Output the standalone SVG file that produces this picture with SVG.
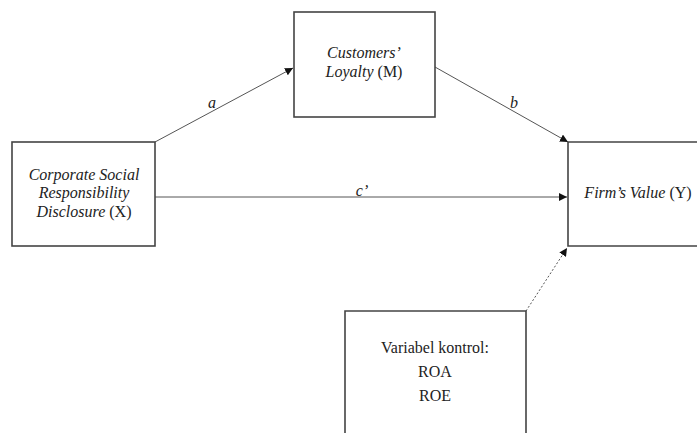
<svg xmlns="http://www.w3.org/2000/svg" width="697" height="433" viewBox="0 0 697 433">
<defs>
<style>
.box{fill:#fff;stroke:#444;stroke-width:1.6}
.edge{fill:none;stroke:#555;stroke-width:1}
.t{font-family:"Liberation Serif","Times New Roman","DejaVu Serif",serif;font-size:16px;fill:#222;text-anchor:middle}
.i{font-style:italic}
</style>
<marker id="ah" viewBox="0 0 10 10" refX="10" refY="5" markerWidth="8" markerHeight="8" markerUnits="userSpaceOnUse" orient="auto">
<path d="M0,0 L10,5 L0,10 z" fill="#111"/>
</marker>
</defs>
<rect width="697" height="433" fill="#fff"/>
<g id="connectors">
<line class="edge" x1="155" y1="142" x2="293" y2="68" marker-end="url(#ah)"/>
<line class="edge" x1="435" y1="67" x2="568" y2="142" marker-end="url(#ah)"/>
<line class="edge" x1="155" y1="197" x2="567" y2="197" marker-end="url(#ah)"/>
<line class="edge" x1="526" y1="311" x2="567" y2="248" stroke-dasharray="2,2" marker-end="url(#ah)"/>
<text class="t i" x="212" y="108">a</text>
<text class="t i" x="514" y="108">b</text>
<text class="t i" x="362" y="196">c’</text>
</g>
<g id="nodeX">
<rect class="box" x="12" y="142" width="143" height="104"/>
<text class="t i" x="84" y="180">Corporate Social</text>
<text class="t i" x="84" y="198">Responsibility</text>
<text class="t i" x="84" y="217"><tspan>Disclosure</tspan><tspan font-style="normal"> (X)</tspan></text>
</g>
<g id="nodeM">
<rect class="box" x="294" y="12" width="141" height="105"/>
<text class="t i" x="364" y="58">Customers’</text>
<text class="t i" x="364" y="77"><tspan>Loyalty</tspan><tspan font-style="normal"> (M)</tspan></text>
</g>
<g id="nodeY">
<path class="box" d="M700,142 H568 V246 H700"/>
<text class="t i" x="638" y="198"><tspan>Firm’s Value</tspan><tspan font-style="normal"> (Y)</tspan></text>
</g>
<g id="nodeControl">
<path class="box" d="M345,436 V311 H526 V436"/>
<text class="t" x="435" y="353">Variabel kontrol:</text>
<text class="t" x="435" y="377">ROA</text>
<text class="t" x="435" y="401">ROE</text>
</g>
</svg>
